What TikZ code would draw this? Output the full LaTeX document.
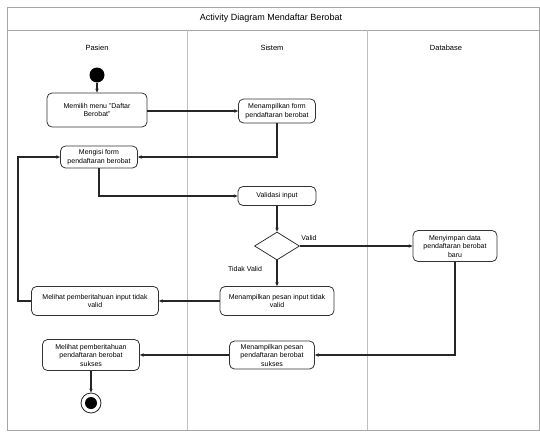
\documentclass[tikz,border=0pt]{standalone}
\usepackage{fontspec}
\setmainfont{Liberation Sans}
\usetikzlibrary{arrows.meta,shapes.geometric}
\begin{document}
\begin{tikzpicture}[x=1pt,y=-1pt,
  act/.style={draw=black!80,line width=0.8pt,rounded corners=5pt,fill=white,align=center,inner sep=0pt,font=\fontsize{7}{8.5}\selectfont},
  flow/.style={draw=black!85,line width=1.2pt,-{Stealth[length=4pt,width=3.5pt]}},
  frame/.style={draw=black!35,line width=0.8pt},
  lane/.style={draw=black!25,line width=0.7pt},
  lbl/.style={font=\fontsize{7}{8.5}\selectfont,inner sep=0pt}]
\useasboundingbox (0,0) rectangle (540,434);
% frame
\draw[frame] (7,7) rectangle (539,430);
\draw[frame] (7,30) -- (539,30);
\draw[lane] (187,30) -- (187,430);
\draw[lane] (367,30) -- (367,430);
\node[font=\fontsize{9}{10}\selectfont] (title) at (271,18) {Activity Diagram Mendaftar Berobat};
\node[lbl,font=\fontsize{7.5}{9}\selectfont] (lp) at (97,48) {Pasien};
\node[lbl,font=\fontsize{7.5}{9}\selectfont] (ls) at (272,48) {Sistem};
\node[lbl,font=\fontsize{7.5}{9}\selectfont] (ld) at (446,48) {Database};
% nodes
\node[circle,fill=black,inner sep=0pt,minimum size=15pt] (start) at (97,75) {};
\node[act,minimum width=100pt,minimum height=34pt] (n1) at (97,110) {Memilih menu "Daftar\\Berobat"};
\node[act,minimum width=77pt,minimum height=24pt] (n2) at (277,111) {Menampilkan form\\pendaftaran berobat};
\node[act,minimum width=77pt,minimum height=22pt] (n3) at (99,157) {Mengisi form\\pendaftaran berobat};
\node[act,minimum width=78pt,minimum height=19pt] (n4) at (277,196) {Validasi input};
\node[diamond,draw=black!80,line width=0.8pt,fill=white,inner sep=0pt,minimum width=45pt,minimum height=28pt] (dia) at (277,246) {};
\node[act,minimum width=84pt,minimum height=31pt] (n5) at (455,246) {Menyimpan data\\pendaftaran berobat\\baru};
\node[act,minimum width=114pt,minimum height=29pt] (n6) at (277,301) {Menampilkan pesan input tidak\\valid};
\node[act,minimum width=127pt,minimum height=29pt] (n7) at (95,301) {Melihat pemberitahuan input tidak\\valid};
\node[act,minimum width=85pt,minimum height=28pt] (n8) at (272,355) {Menampilkan pesan\\pendaftaran berobat\\sukses};
\node[act,minimum width=97pt,minimum height=31pt] (n9) at (91,355) {Melihat pemberitahuan\\pendaftaran berobat\\sukses};
\node[circle,draw=black!85,line width=0.8pt,fill=white,inner sep=0pt,minimum size=20pt] (end) at (91,403) {};
\node[circle,fill=black,inner sep=0pt,minimum size=12pt] (endin) at (end) {};
% connectors
\draw[flow] (start) -- (n1);
\draw[flow] (n1.east |- n2.west) -- (n2.west);
\draw[flow] (n2.south) |- (n3.east);
\draw[flow] (n3.south) |- (n4.west);
\draw[flow] (n4.south) -- (dia.north);
\draw[flow] (dia.east) -- (n5.west);
\draw[flow] (dia.south) -- (n6.north);
\draw[flow] (n6.west) -- (n7.east);
\coordinate (lb) at (18,301);
\draw[flow] (n7.west) -- (lb) |- (n3.west);
\draw[flow] (n5.south) |- (n8.east);
\draw[flow] (n8.west) -- (n9.east);
\draw[flow] (n9.south) -- (end.north);
% labels
\node[lbl] (vl) at (309,238) {Valid};
\node[lbl] (tv) at (245,269) {Tidak Valid};
\end{tikzpicture}
\end{document}
